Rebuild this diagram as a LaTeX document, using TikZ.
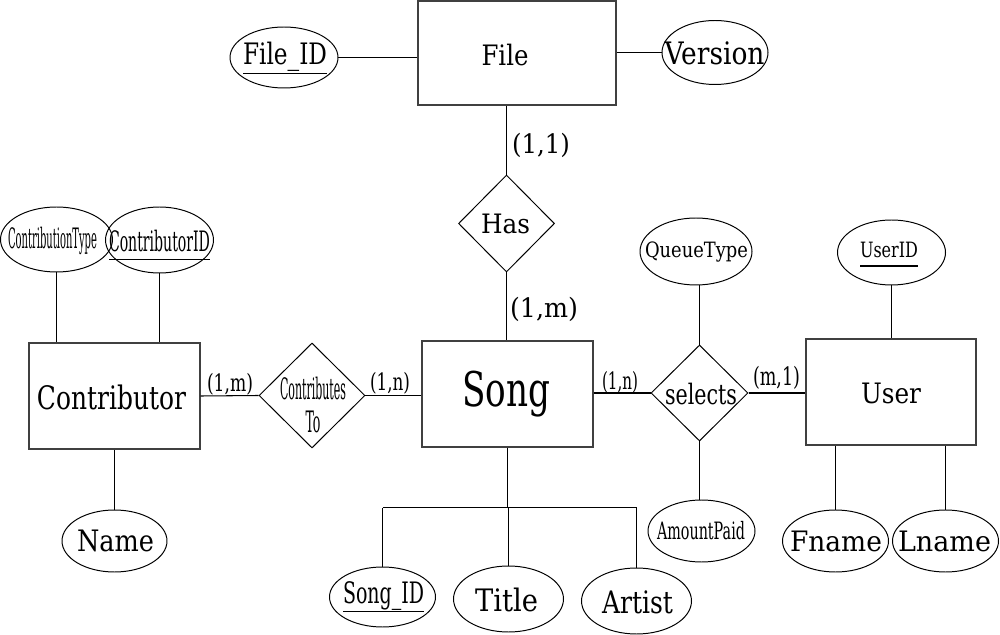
\documentclass[tikz,border=0pt]{standalone}
\usepackage{fontspec}
\setmainfont{DejaVu Serif}
\usepackage{graphicx}
\usetikzlibrary{shapes.geometric}
\newlength\pxu \setlength\pxu{0.025cm}
\newcommand\tw[3]{\resizebox{#1\pxu}{\height}{\fontsize{#2pt}{#2pt}\selectfont #3}}
\newcommand\ulx[1]{\setbox0\hbox{#1}\rlap{\smash{\rule[-9\pxu]{\wd0}{0.8pt}}}\box0}
\begin{document}
\begin{tikzpicture}[x=0.025cm, y=-0.025cm,
  ent/.style={draw=black!75, line width=0.9pt, rectangle, inner sep=0pt},
  attr/.style={draw=black, line width=0.7pt, ellipse, inner sep=0pt},
  rel/.style={draw=black, line width=0.7pt, diamond, inner sep=0pt},
  txt/.style={inner sep=0pt},
  conn/.style={line width=0.75pt}]
\useasboundingbox (0,0) rectangle (1000,635);

% entities
\node[ent, minimum width=198\pxu, minimum height=104\pxu] (file) at (517,53) {};
\node[ent, minimum width=171\pxu, minimum height=106\pxu] (song) at (507.5,394) {};
\node[ent, minimum width=171\pxu, minimum height=106\pxu] (contr) at (114.5,396) {};
\node[ent, minimum width=170\pxu, minimum height=106\pxu] (user) at (891,392) {};

% relationships
\node[rel, minimum width=96\pxu, minimum height=97\pxu] (has) at (506.5,223.5) {};
\node[rel, minimum width=106\pxu, minimum height=105\pxu] (ctd) at (312,395.5) {};
\node[rel, minimum width=97\pxu, minimum height=96\pxu] (sel) at (699.5,393) {};

% attributes
\node[attr, minimum width=108\pxu, minimum height=61\pxu] (fid) at (284,57.5) {};
\node[attr, minimum width=106\pxu, minimum height=64\pxu] (ver) at (715,52.5) {};
\node[attr, minimum width=112\pxu, minimum height=65\pxu] (ctype) at (56.5,239.5) {};
\node[attr, minimum width=108\pxu, minimum height=66\pxu] (cid) at (159.5,240) {};
\node[attr, minimum width=105\pxu, minimum height=62\pxu] (name) at (114.5,541) {};
\node[attr, minimum width=112\pxu, minimum height=67\pxu] (qt) at (696,251.5) {};
\node[attr, minimum width=107\pxu, minimum height=62\pxu] (ap) at (701.5,531) {};
\node[attr, minimum width=108\pxu, minimum height=65\pxu] (uid) at (891.5,252.5) {};
\node[attr, minimum width=106\pxu, minimum height=62\pxu] (fn) at (835.5,541) {};
\node[attr, minimum width=106\pxu, minimum height=62\pxu] (ln) at (945.5,541) {};
\node[attr, minimum width=106\pxu, minimum height=60\pxu] (sid) at (382.5,597) {};
\node[attr, minimum width=110\pxu, minimum height=66\pxu] (ti) at (508.5,599) {};
\node[attr, minimum width=110\pxu, minimum height=66\pxu] (art) at (636.5,601) {};

% texts
\node[txt] (filet) at (505,55) {\tw{47}{20}{File}};
\node[txt] (songt) at (506,394) {\tw{88}{34}{Song}};
\node[txt] (contrt) at (111.5,397) {\tw{149}{23}{Contributor}};
\node[txt] (usert) at (891,393) {\tw{60}{20}{User}};
\node[txt] (hast) at (505.5,224) {\tw{49}{19}{Has}};
\node[txt] (selt) at (701,394) {\tw{72}{20}{selects}};
\node[txt, align=center, font={\fontsize{21pt}{22.8pt}\selectfont}] (ctdt) at (313,405) {\tw{66}{21}{Contributes}\\\tw{15}{21}{To}};
\node[txt] (fidt) at (285,57) {\tw{84}{21}{\ulx{File\_ID}}};
\node[txt] (vert) at (714.5,53) {\tw{100}{22}{Version}};
\node[txt] (ctypet) at (52.5,241) {\tw{89}{20}{ContributionType}};
\node[txt] (cidt) at (159.5,241) {\tw{101}{20}{\ulx{ContributorID}}};
\node[txt] (namet) at (115.5,541) {\tw{77}{21}{Name}};
\node[txt] (qtt) at (696.5,252) {\tw{103}{15}{QueueType}};
\node[txt] (apt) at (701,531) {\tw{88}{17}{AmountPaid}};
\node[txt] (uidt) at (889,250) {\tw{58}{15}{\ulx{UserID}}};
\node[txt] (fnt) at (836,541) {\tw{92}{20}{Fname}};
\node[txt] (lnt) at (944.5,541) {\tw{93}{20}{Lname}};
\node[txt] (sidt) at (383.5,596) {\tw{81}{21}{\ulx{Song\_ID}}};
\node[txt] (tit) at (506.5,600) {\tw{63}{22}{Title}};
\node[txt] (artt) at (637.5,602) {\tw{71}{22}{Artist}};

% cardinalities
\node[txt] (c1) at (541,145.5) {\tw{58}{19}{(1,1)}};
\node[txt] (c2) at (544,309) {\tw{68}{19}{(1,m)}};
\node[txt] (c3) at (230,384) {\tw{46}{17}{(1,m)}};
\node[txt] (c4) at (390,383) {\tw{40}{17}{(1,n)}};
\node[txt] (c5) at (620,382) {\tw{36}{17}{(1,n)}};
\node[txt] (c6) at (776.5,377.5) {\tw{47}{18}{(m,1)}};

% connectors
\draw[conn] (fid.east) -- (fid.east -| file.west);
\draw[conn] (file.east |- ver.west) -- (ver.west);
\draw[conn] (has.north) -- (has.north |- file.south);
\draw[conn] (has.south) -- (has.south |- song.north);
\draw[conn] (contr.east) -- (ctd.west);
\draw[conn] (ctd.east) -- (ctd.east -| song.west);
\draw[conn] (song.east |- sel.west) -- (sel.west);
\draw[conn] (sel.east) -- (sel.east -| user.west);
\draw[conn] (qt.south -| sel.north) -- (sel.north);
\draw[conn] (sel.south) -- (sel.south |- ap.north);
\draw[conn] (uid.south) -- (uid.south |- user.north);
\draw[conn] (fn.north) -- (fn.north |- user.south);
\draw[conn] (ln.north) -- (ln.north |- user.south);
\draw[conn] (ctype.south) -- (ctype.south |- contr.north);
\draw[conn] (cid.south) -- (cid.south |- contr.north);
\draw[conn] (name.north) -- (name.north |- contr.south);
\coordinate (j) at (508.5,507.5);
\draw[conn] (song.south) -- (song.south |- j);
\draw[conn] (sid.north |- j) -- (art.north |- j);
\draw[conn] (sid.north) -- (sid.north |- j);
\draw[conn] (ti.north) -- (ti.north |- j);
\draw[conn] (art.north) -- (art.north |- j);
\end{tikzpicture}
\end{document}
